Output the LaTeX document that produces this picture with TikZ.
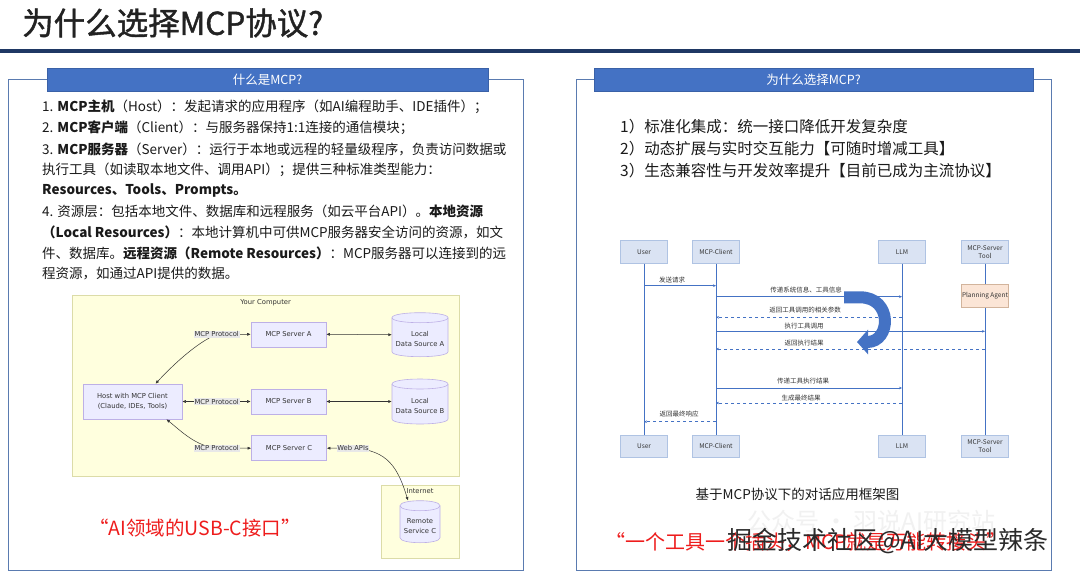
\documentclass[tikz,border=0pt]{standalone}
\usepackage{fontspec}
\setmainfont{Noto Sans CJK SC}
\newfontfamily\dv{DejaVu Sans}
\newfontfamily\titlef{Noto Sans CJK SC}[FakeBold=1.3]
\usetikzlibrary{arrows.meta,calc}
\definecolor{navy}{HTML}{1F3864}
\definecolor{txtc}{HTML}{1A1A1A}
\definecolor{titlec}{HTML}{222222}
\definecolor{barblue}{HTML}{4472C4}
\definecolor{panelc}{HTML}{5A7BB0}
\definecolor{myel}{HTML}{FFFFDE}
\definecolor{myelb}{HTML}{DCDCA8}
\definecolor{mfill}{HTML}{ECECFF}
\definecolor{mdraw}{HTML}{BDB0E6}
\definecolor{mtext}{HTML}{333333}
\definecolor{lblbg}{HTML}{E8E8E8}
\definecolor{edgec}{HTML}{333333}
\definecolor{seqblue}{HTML}{4472C4}
\definecolor{sfill}{HTML}{DAE3F3}
\definecolor{sdraw}{HTML}{AFC3E3}
\definecolor{stext}{HTML}{333333}
\definecolor{pafill}{HTML}{FBE5D6}
\definecolor{padraw}{HTML}{D2B49C}
\definecolor{redc}{HTML}{EE1C1C}
\definecolor{wmc}{HTML}{2A2A2A}
\definecolor{faintc}{HTML}{F1F1F1}
\newcommand{\mcyl}[8]{% name, cx, ytop, ybot, rx, ry, text y, text
  \path[cylfill] (#2-#5,#3) -- (#2-#5,#4) .. controls (#2-#5,#4+1.333*#6) and (#2+#5,#4+1.333*#6) .. (#2+#5,#4)
     -- (#2+#5,#3) .. controls (#2+#5,#3-1.333*#6) and (#2-#5,#3-1.333*#6) .. cycle;
  \draw[draw=mdraw, line width=0.6pt] (#2-#5,#3) .. controls (#2-#5,#3+1.333*#6) and (#2+#5,#3+1.333*#6) .. (#2+#5,#3);
  \node[inner sep=0pt, minimum width=2*#5, minimum height=#4-#3+2*#6] (#1) at (#2,{(#3+#4)/2}) {};
  \node[mtxt] (#1t) at (#2,#7) {#8};
}
\begin{document}
\begin{tikzpicture}[x=1pt,y=-1pt,
  txt/.style={anchor=west, inner sep=0pt, font=\fontsize{13.5}{16}\selectfont, text=txtc},
  txtb/.style={anchor=west, inner sep=0pt, font=\fontsize{15.5}{18}\selectfont, text=txtc},
  bar/.style={fill=barblue, draw=barblue!85!black, line width=0.4pt, text=white, font=\fontsize{12.5}{15}\selectfont, inner sep=0pt},
  panel/.style={draw=panelc, line width=0.9pt},
  ybox/.style={fill=myel, draw=myelb, line width=0.6pt},
  mtxt/.style={inner sep=0pt, font=\dv\fontsize{6.8}{10.5}\selectfont, text=mtext, align=center},
  mbox/.style={fill=mfill, draw=mdraw, line width=0.6pt, inner sep=0pt, font=\dv\fontsize{6.8}{10.5}\selectfont, text=mtext, align=center},
  cylfill/.style={fill=mfill, draw=mdraw, line width=0.6pt},
  mlbl/.style={fill=lblbg, inner sep=0.8pt, font=\dv\fontsize{6.8}{8}\selectfont, text=mtext},
  mlink/.style={draw=edgec, line width=0.5pt, {Latex[length=3.5pt,width=3pt]}-{Latex[length=3.5pt,width=3pt]}},
  sbox/.style={fill=sfill, draw=sdraw, line width=0.6pt, minimum width=46.6pt, minimum height=22.6pt, inner sep=0pt, font=\fontsize{6.5}{7.8}\selectfont, text=stext, align=center},
  life/.style={draw=seqblue, line width=0.8pt},
  msg/.style={draw=seqblue, line width=0.8pt, -{Stealth[length=3pt,width=2.6pt]}},
  ret/.style={msg, dash pattern=on 3.5pt off 2.5pt},
  slbl/.style={inner sep=0pt, font=\fontsize{6.5}{8}\selectfont, text=stext},
]
\useasboundingbox (0,0) rectangle (1080,574);
\fill[white] (0,0) rectangle (1080,574);

% title
\node[anchor=west, inner sep=0pt, font=\titlef\fontsize{31.5}{36}\selectfont, text=titlec] (title) at (22,23) {为什么选择MCP协议?};
\draw[navy, line width=3.5pt] (0,51) -- (1080,51);

% ---------------- left panel ----------------
\draw[panel] (8,79) rectangle (523,570);
\node[bar, minimum width=441pt, minimum height=23pt] (barL) at (267.5,79.5) {什么是MCP?};

\node[txt] (t1) at (42,106.7) {1. \textbf{MCP主机}（Host）：发起请求的应用程序（如AI编程助手、IDE插件）；};
\node[txt] (t2) at (42,127.5) {2. \textbf{MCP客户端}（Client）：与服务器保持1:1连接的通信模块；};
\node[txt] (t3) at (42,149) {3. \textbf{MCP服务器}（Server）：运行于本地或远程的轻量级程序，负责访问数据或};
\node[txt] (t4) at (42,170) {执行工具（如读取本地文件、调用API）；提供三种标准类型能力：};
\node[txt] (t5) at (42,190.5) {\textbf{Resources、Tools、Prompts。}};
\node[txt] (t6) at (42,211.5) {4. 资源层：包括本地文件、数据库和远程服务（如云平台API）。\textbf{本地资源}};
\node[txt] (t7) at (42,232.5) {\textbf{（Local Resources）}：本地计算机中可供MCP服务器安全访问的资源，如文};
\node[txt] (t8) at (42,253.5) {件、数据库。\textbf{远程资源（Remote Resources）}：MCP服务器可以连接到的远};
\node[txt] (t9) at (42,274) {程资源，如通过API提供的数据。};

% architecture diagram
\draw[ybox] (72.7,295) rectangle (459,476);
\node[mtxt] (yc) at (265.7,302.7) {Your Computer};
\draw[ybox] (381,485) rectangle (459,558);
\node[mtxt] (inet) at (420,490.7) {Internet};

\node[mbox, minimum width=75pt, minimum height=25pt] (srvA) at (288.5,334.3) {MCP Server A};
\node[mbox, minimum width=75pt, minimum height=25pt] (srvB) at (288.5,401.5) {MCP Server B};
\node[mbox, minimum width=75pt, minimum height=25pt] (srvC) at (289,448.2) {MCP Server C};
\node[mbox, minimum width=99pt, minimum height=35pt] (host) at (132.5,401.5) {Host with MCP Client\\(Claude, IDEs, Tools)};

\mcyl{dsA}{420}{317.7}{351.7}{28}{5}{339}{Local\\Data Source A}
\mcyl{dsB}{420}{384}{419}{28}{5}{406}{Local\\Data Source B}
\mcyl{rsC}{420}{505.7}{537.7}{20}{5}{526.2}{Remote\\Service C}

\coordinate (pA) at (216.7,334.3);
\coordinate (pB) at (216.7,401.5);
\coordinate (pC) at (216.7,448.2);
\coordinate (pW) at (353,448.2);

\draw[mlink] ([xshift=23pt]host.north) .. controls (172,366) and (196,343) .. (pA) -- (srvA.west);
\draw[mlink] (host.east) -- (srvB.west);
\draw[mlink] ([xshift=34pt]host.south) .. controls (182,432) and (196,446) .. (pC) -- (srvC.west);
\draw[mlink] (srvA.east) -- (dsA.west);
\draw[mlink] (srvB.east) -- (dsB.west);
\draw[mlink] (srvC.east) -- (pW) .. controls (388,450) and (398,468) .. ([xshift=-12pt]rsC.north);

\node[mlbl] (lblA) at (pA) {MCP Protocol};
\node[mlbl] (lblB) at (pB) {MCP Protocol};
\node[mlbl] (lblC) at (pC) {MCP Protocol};
\node[mlbl] (lblW) at (pW) {Web APIs};

\node[anchor=west, inner sep=0pt, font=\fontsize{19.5}{23}\selectfont, text=redc] (quote1) at (89,528) {“AI领域的USB-C接口”};

% ---------------- right panel ----------------
\draw[panel] (576,79) rectangle (1051,570);
\node[bar, minimum width=439pt, minimum height=23pt] (barR) at (813.5,79.5) {为什么选择MCP?};

\node[txtb] (w1) at (620,126.5) {1）标准化集成：统一接口降低开发复杂度};
\node[txtb] (w2) at (620,148.5) {2）动态扩展与实时交互能力【可随时增减工具】};
\node[txtb] (w3) at (620,170.5) {3）生态兼容性与开发效率提升【目前已成为主流协议】};

% sequence diagram
\node[sbox] (uT) at (644,252) {User};
\node[sbox] (cT) at (716,252) {MCP-Client};
\node[sbox] (lT) at (902,252) {LLM};
\node[sbox] (tT) at (985,252) {MCP-Server\\Tool};
\node[sbox] (uB) at (644,446.3) {User};
\node[sbox] (cB) at (716,446.3) {MCP-Client};
\node[sbox] (lB) at (902,446.3) {LLM};
\node[sbox] (tB) at (985,446.3) {MCP-Server\\Tool};

\draw[life] (uT.south) -- (uB.north);
\draw[life] (cT.south) -- (cB.north);
\draw[life] (lT.south) -- (lB.north);
\draw[life] (tT.south) -- (tB.north);

\node[sbox, fill=pafill, draw=padraw, minimum height=23pt] (pa) at (985,295.8) {Planning Agent};

\coordinate (r1) at (0,285.7);
\coordinate (r2) at (0,296.7);
\coordinate (r3) at (0,317.3);
\coordinate (r4) at (0,331.3);
\coordinate (r5) at (0,349);
\coordinate (r6) at (0,388);
\coordinate (r7) at (0,403);
\coordinate (r8) at (0,421.7);

\draw[msg] (uT |- r1) -- (cT |- r1);
\draw[msg] (cT |- r2) -- (lT |- r2);
\draw[ret] (lT |- r3) -- (cT |- r3);
\draw[msg] (cT |- r4) -- (tT |- r4);
\draw[ret] (tT |- r5) -- (cT |- r5);
\draw[msg] (cT |- r6) -- (lT |- r6);
\draw[ret] (lT |- r7) -- (cT |- r7);
\draw[ret] (cT |- r8) -- (uT |- r8);

\node[slbl] (m1) at (672,280.5) {发送请求};
\node[slbl] (m2) at (806,290.3) {传递系统信息、工具信息};
\node[slbl] (m3) at (805,310.3) {返回工具调用的相关参数};
\node[slbl] (m4) at (804,326.3) {执行工具调用};
\node[slbl] (m5) at (804,343.5) {返回执行结果};
\node[slbl] (m6) at (803,381.3) {传递工具执行结果};
\node[slbl] (m7) at (801,397.8) {生成最终结果};
\node[slbl] (m8) at (679,414.3) {返回最终响应};

% big U-turn arrow
\coordinate (ua0) at (844,297.3);
\coordinate (ua1) at (857,342);
\draw[seqblue, line width=12pt, -{Triangle[length=11pt,width=24pt]}]
  (ua0) -- (860,297.3) .. controls (893,297.3) and (891,342) .. (ua1);

\node[inner sep=0pt, font=\fontsize{13.5}{16}\selectfont, text=txtc] (cap) at (797.5,494) {基于MCP协议下的对话应用框架图};

% watermarks and red quote
\node[anchor=west, inner sep=0pt, font=\fontsize{24}{28}\selectfont, text=faintc] (wm2) at (747,521) {公众号 · 羽说AI研究站};
\node[anchor=west, inner sep=0pt, font=\fontsize{20}{24}\selectfont, text=redc] (quote2) at (605,542) {“一个工具一个插头，MCP就是万能转接头”};
\node[anchor=west, inner sep=0pt, font=\fontsize{25}{30}\selectfont, text=wmc] (wm) at (727,541) {掘金技术社区@AI大模型辣条};
\end{tikzpicture}
\end{document}
